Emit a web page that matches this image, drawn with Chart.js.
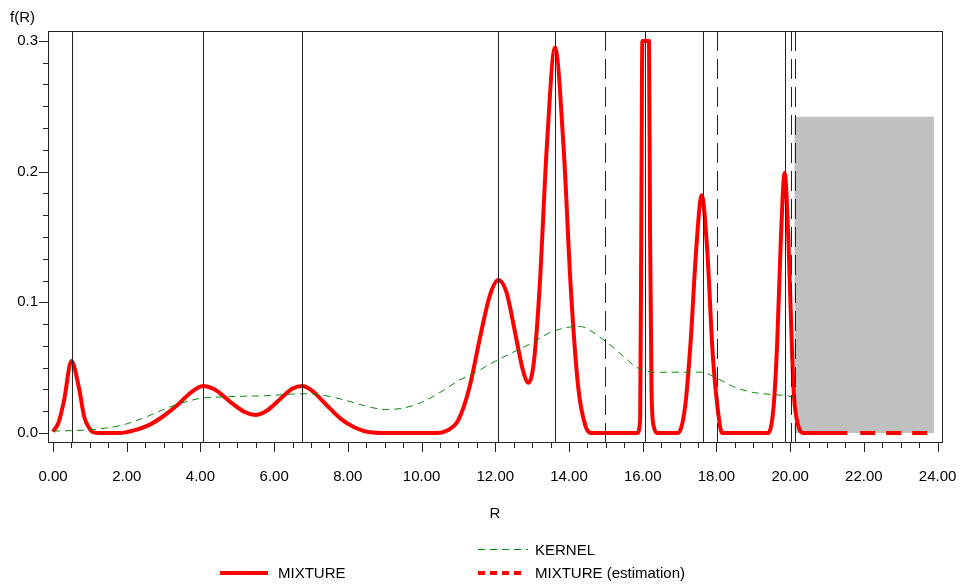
<!DOCTYPE html>
<html>
<head>
<meta charset="utf-8">
<script src="https://cdn.jsdelivr.net/npm/chart.js@4.4.1/dist/chart.umd.min.js"></script>
<style>
  html, body { margin: 0; padding: 0; background: #fff; }
  #wrap { width: 962px; height: 588px; }
</style>
</head>
<body>
<div id="wrap"><canvas id="densityChart" width="962" height="588"></canvas></div>
<script>
// values
const mixtureR = [0.0, 0.15, 0.3, 0.5, 0.7, 0.85, 1.0, 1.1, 1.3, 1.8, 2.2, 2.6, 3.0, 3.4, 3.7, 4.07, 4.4, 4.8, 5.2, 5.48, 5.8, 6.2, 6.5, 6.76, 7.0, 7.4, 7.8, 8.2, 8.6, 9.0,
  10.4, 10.7, 11.0, 11.3, 11.6, 11.85, 12.08, 12.3, 12.55, 12.75, 12.9, 13.05, 13.2, 13.4, 13.62, 13.85, 14.05, 14.25, 14.45, 14.6,
  15.85, 15.93, 15.96, 15.99, 16.17, 16.2, 16.24, 16.3, 16.4, 16.95, 17.15, 17.3, 17.45, 17.6, 17.75, 17.9, 18.05, 18.15,
  19.4, 19.55, 19.65, 19.75, 19.85, 19.95, 20.03, 20.1, 20.17, 20.25, 20.35, 21.55];
const mixtureF = [0.001, 0.008, 0.025, 0.055, 0.035, 0.012, 0.003, 0.0005, 0, 0, 0.002, 0.006, 0.013, 0.022, 0.030, 0.036, 0.033, 0.024, 0.016, 0.0138, 0.017, 0.027, 0.034, 0.036, 0.033, 0.022, 0.011, 0.004, 0.0005, 0,
  0, 0.002, 0.010, 0.035, 0.075, 0.105, 0.117, 0.108, 0.075, 0.048, 0.0385, 0.055, 0.110, 0.220, 0.295, 0.220, 0.110, 0.035, 0.005, 0,
  0, 0.01, 0.15, 0.30, 0.30, 0.15, 0.03, 0.005, 0, 0, 0.02, 0.07, 0.14, 0.182, 0.14, 0.06, 0.015, 0,
  0, 0.02, 0.07, 0.15, 0.199, 0.15, 0.08, 0.03, 0.012, 0.003, 0, 0];

const kernelR = [0.0, 0.5, 1.0, 1.5, 2.0, 2.5, 3.0, 3.5, 4.0, 4.5, 5.0, 5.5, 6.0, 6.5, 7.0, 7.5, 8.0, 8.5, 9.0, 9.5, 10.0, 10.5, 11.0, 11.5, 12.0, 12.5, 13.0, 13.5, 14.0, 14.3, 14.6, 15.0, 15.5, 15.8, 16.0, 16.5, 17.0, 17.6, 18.0, 18.5, 19.0, 19.5, 20.0, 20.1];
const kernelF = [0.0015, 0.0018, 0.0025, 0.004, 0.007, 0.012, 0.018, 0.023, 0.0265, 0.0275, 0.028, 0.0283, 0.0288, 0.0298, 0.030, 0.028, 0.0245, 0.0205, 0.018, 0.019, 0.0235, 0.031, 0.040, 0.047, 0.055, 0.062, 0.069, 0.077, 0.081, 0.0815, 0.078, 0.070, 0.058, 0.051, 0.048, 0.0465, 0.0465, 0.0465, 0.042, 0.035, 0.031, 0.0295, 0.028, 0.027];

const estimationR = [21.9, 23.85];
const estimationF = [0, 0];

const solidRefLines = [0.52, 4.07, 6.76, 12.08, 13.62, 16.07, 17.64, 19.86];
const dashedRefLines = [14.98, 18.02, 20.03, 20.12];

const shadeR = [20.12, 23.9];
const shadeTop = 0.242;

const xTicks = [0, 2, 4, 6, 8, 10, 12, 14, 16, 18, 20, 22, 24];
const yTicks = [0, 0.1, 0.2, 0.3];

const FONT = '"Liberation Sans", Arial, sans-serif';

function toPoints(xs, ys) {
  return xs.map((x, i) => ({ x: x, y: ys[i] }));
}

// frame, minor ticks, reference lines, shaded box, legend
const decorations = {
  id: 'decorations',
  beforeDatasetsDraw(chart) {
    const { ctx, scales: { x, y } } = chart;
    ctx.save();
    ctx.fillStyle = '#c0c0c0';
    const x0 = x.getPixelForValue(shadeR[0]);
    const x1 = x.getPixelForValue(shadeR[1]);
    const y0 = y.getPixelForValue(shadeTop);
    const y1 = y.getPixelForValue(0);
    ctx.fillRect(x0, y0, x1 - x0, y1 - y0);
    ctx.restore();
  },
  afterDatasetsDraw(chart) {
    const { ctx, chartArea: a, scales: { x } } = chart;
    ctx.save();
    ctx.strokeStyle = '#222';
    ctx.lineWidth = 1;
    solidRefLines.forEach(v => {
      const px = Math.round(x.getPixelForValue(v)) + 0.5;
      ctx.beginPath(); ctx.moveTo(px, a.top); ctx.lineTo(px, a.bottom); ctx.stroke();
    });
    ctx.setLineDash([20, 8]);
    dashedRefLines.forEach(v => {
      const px = Math.round(x.getPixelForValue(v)) + 0.5;
      ctx.beginPath(); ctx.moveTo(px, a.top); ctx.lineTo(px, a.bottom); ctx.stroke();
    });
    ctx.restore();
  },
  afterDraw(chart) {
    const { ctx, chartArea: a, scales: { x, y } } = chart;
    ctx.save();
    ctx.strokeStyle = '#222';
    ctx.lineWidth = 1;
    ctx.strokeRect(Math.round(a.left) + 0.5, Math.round(a.top) + 0.5, Math.round(a.right - a.left), Math.round(a.bottom - a.top));

    // x ticks: every 0.5, long at labelled values
    for (let k = 0; k <= 48; k++) {
      const v = k * 0.5;
      const px = Math.round(x.getPixelForValue(v)) + 0.5;
      const len = (k % 4 === 0) ? 9 : 5;
      ctx.beginPath(); ctx.moveTo(px, a.bottom + 1); ctx.lineTo(px, a.bottom + 1 + len); ctx.stroke();
    }
    // y ticks: six steps per labelled interval
    for (let k = 0; k <= 18; k++) {
      const v = k * 0.1 / 6;
      const py = Math.round(y.getPixelForValue(v)) + 0.5;
      const len = (k % 6 === 0) ? 9 : 5;
      ctx.beginPath(); ctx.moveTo(a.left, py); ctx.lineTo(a.left - len, py); ctx.stroke();
    }

    ctx.fillStyle = '#000';
    ctx.font = '15px ' + FONT;
    ctx.textBaseline = 'middle';
    ctx.textAlign = 'left';
    ctx.fillText('f(R)', 10, 18);

    // legend
    ctx.lineWidth = 4;
    ctx.strokeStyle = '#ff0000';
    ctx.beginPath(); ctx.moveTo(220, 573); ctx.lineTo(268, 573); ctx.stroke();
    ctx.fillText('MIXTURE', 278, 574);

    ctx.lineWidth = 1;
    ctx.strokeStyle = '#0a8a0a';
    ctx.setLineDash([7, 5]);
    ctx.beginPath(); ctx.moveTo(478, 549.5); ctx.lineTo(528, 549.5); ctx.stroke();
    ctx.setLineDash([]);
    ctx.fillText('KERNEL', 535, 551);

    ctx.lineWidth = 4;
    ctx.strokeStyle = '#ff0000';
    ctx.setLineDash([7, 5]);
    ctx.beginPath(); ctx.moveTo(478, 573); ctx.lineTo(522, 573); ctx.stroke();
    ctx.setLineDash([]);
    ctx.fillText('MIXTURE (estimation)', 535, 574);
    ctx.restore();
  }
};

function createChart() {
  const ctx = document.getElementById('densityChart').getContext('2d');
  new Chart(ctx, {
    type: 'line',
    data: {
      datasets: [{
        label: 'KERNEL',
        data: toPoints(kernelR, kernelF),
        borderColor: '#0a8a0a',
        borderWidth: 1,
        borderDash: [7, 5],
        pointRadius: 0,
        cubicInterpolationMode: 'monotone'
      }, {
        label: 'MIXTURE',
        data: toPoints(mixtureR, mixtureF),
        borderColor: '#ff0000',
        borderWidth: 4,
        borderJoinStyle: 'round',
        pointRadius: 0,
        cubicInterpolationMode: 'monotone'
      }, {
        label: 'MIXTURE (estimation)',
        data: toPoints(estimationR, estimationF),
        borderColor: '#ff0000',
        borderWidth: 4,
        borderDash: [15, 11],
        pointRadius: 0
      }]
    },
    options: {
      responsive: false,
      animation: false,
      layout: { padding: { top: 31, right: 0, bottom: 60, left: 0 } },
      plugins: {
        legend: { display: false },
        tooltip: { enabled: false }
      },
      scales: {
        x: {
          type: 'linear',
          min: -0.136,
          max: 24.12,
          grid: { display: false, drawTicks: false },
          border: { display: false },
          afterBuildTicks: s => { s.ticks = xTicks.map(v => ({ value: v })); },
          afterFit: s => { s.height = 86; s.paddingRight = 20; },
          ticks: {
            autoSkip: false,
            maxRotation: 0,
            padding: 26,
            color: '#000',
            font: { family: FONT, size: 15 },
            callback: v => Number(v).toFixed(2)
          },
          title: {
            display: true,
            text: 'R',
            color: '#000',
            font: { family: FONT, size: 15 },
            padding: { top: 0, bottom: 5 }
          }
        },
        y: {
          min: -0.0069,
          max: 0.3076,
          grid: { display: false, drawTicks: false },
          border: { display: false },
          afterBuildTicks: s => { s.ticks = yTicks.map(v => ({ value: v })); },
          afterFit: s => { s.width = 48; },
          ticks: {
            padding: 10,
            color: '#000',
            font: { family: FONT, size: 15 },
            callback: v => Number(v).toFixed(1)
          }
        }
      }
    },
    plugins: [decorations]
  });
}

window.onload = createChart;
</script>
</body>
</html>
